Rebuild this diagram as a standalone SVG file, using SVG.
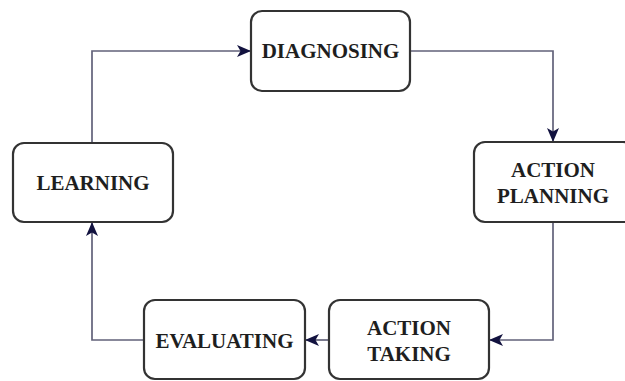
<svg xmlns="http://www.w3.org/2000/svg" width="625" height="381" viewBox="0 0 625 381">
<style>
.box{fill:#fff;stroke:#333;stroke-width:2.2}
.lbl{font-family:"Liberation Serif","Times New Roman",serif;font-weight:bold;font-size:21px;fill:#1e1e1e;text-anchor:middle;dominant-baseline:central}
.edge{fill:none;stroke:#62627a;stroke-width:1.7}
</style>
<defs>
<marker id="arr" viewBox="0 0 14 12" refX="13" refY="6" markerWidth="14" markerHeight="12" markerUnits="userSpaceOnUse" orient="auto">
<path d="M0,0 L14,6 L0,12 L3.5,6 Z" fill="#12123f"/>
</marker>
</defs>
<rect width="625" height="381" fill="#fff"/>
<g id="connectors">
<path class="edge" d="M92,143 V51 H250" marker-end="url(#arr)"/>
<path class="edge" d="M411,51 H553 V141" marker-end="url(#arr)"/>
<path class="edge" d="M553,222 V340 H490" marker-end="url(#arr)"/>
<path class="edge" d="M329,340 H306" marker-end="url(#arr)"/>
<path class="edge" d="M144,340 H92 V223" marker-end="url(#arr)"/>
</g>
<g id="diagnosing">
<rect class="box" x="251" y="11" width="159" height="80" rx="11"/>
<text class="lbl" x="330.5" y="51">DIAGNOSING</text>
</g>
<g id="action-planning">
<rect class="box" x="474" y="142" width="160" height="80" rx="11"/>
<text class="lbl" x="553" y="170">ACTION</text>
<text class="lbl" x="553" y="196">PLANNING</text>
</g>
<g id="action-taking">
<rect class="box" x="329" y="300" width="160" height="79" rx="11"/>
<text class="lbl" x="409" y="328">ACTION</text>
<text class="lbl" x="409" y="354">TAKING</text>
</g>
<g id="evaluating">
<rect class="box" x="144" y="300" width="161" height="79" rx="11"/>
<text class="lbl" x="224.5" y="341">EVALUATING</text>
</g>
<g id="learning">
<rect class="box" x="13" y="143" width="160" height="79" rx="11"/>
<text class="lbl" x="93" y="183">LEARNING</text>
</g>
</svg>
